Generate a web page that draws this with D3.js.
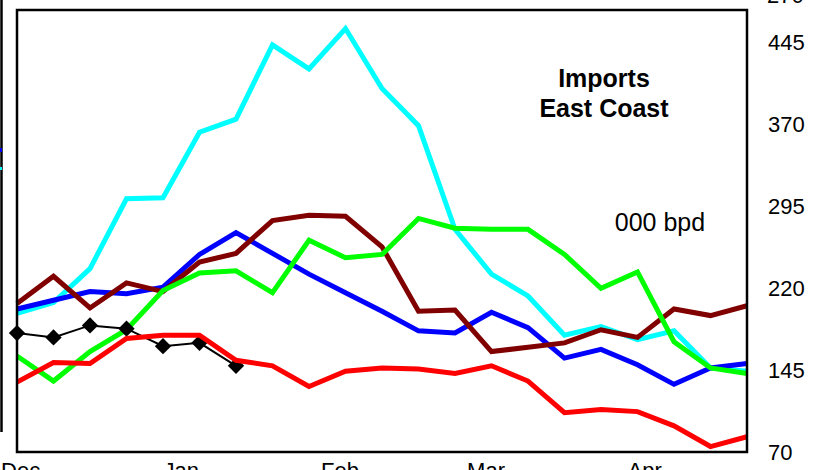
<!DOCTYPE html>
<html>
<head>
<meta charset="utf-8">
<script src="https://cdn.jsdelivr.net/npm/d3@7"></script>
<style>
  html, body { margin: 0; padding: 0; background: #fff; overflow: hidden; }
  svg { display: block; font-family: Arial, "Liberation Sans", sans-serif; }
</style>
</head>
<body>
<svg id="chart" width="818" height="470"></svg>
<script>
// ---- data (weekly, Dec through Apr) ----
const weeks = d3.range(21);
const monthLabels = ["Dec", "Jan", "Feb", "Mar", "Apr"];
const monthPositions = [0.1, 4.5, 8.85, 12.85, 17.2];
const yTicks = [70, 145, 220, 295, 370, 445];
const topCutLabel = "270";

const cyanSeries   = [197, 207, 238, 302, 303, 363, 375, 443, 421, 458, 403, 369, 274, 233, 213, 177, 185, 173, 181, 147, 144];
const blueSeries   = [201, 209, 217, 215, 221, 251, 271, 252, 233, 216, 199, 181, 179, 198, 184, 156, 164, 150, 132, 147, 151];
const maroonSeries = [206, 231, 202, 225, 217, 244, 252, 282, 287, 286, 258, 199, 200, 162, 166, 170, 182, 175, 201, 195, 204];
const greenSeries  = [158, 135, 162, 182, 218, 234, 236, 216, 264, 248, 251, 284, 275, 274, 274, 251, 220, 235, 171, 147, 142];
const redSeries    = [134, 152, 151, 174, 177, 177, 154, 149, 130, 144, 147, 146, 142, 149, 135, 106, 109, 107, 94, 75, 84];
const blackSeries  = [179, 175, 186, 183, 167, 170, 149];

const seriesList = [
  { name: "cyan",   values: cyanSeries,   color: "#00ffff" },
  { name: "blue",   values: blueSeries,   color: "#0000ff" },
  { name: "maroon", values: maroonSeries, color: "#800000" },
  { name: "green",  values: greenSeries,  color: "#00ff00" },
];

// ---- layout ----
const svg = d3.select("#chart");
const plotLeft = 17, plotRight = 747, plotTop = 10, plotBottom = 452;

const x = d3.scaleLinear().domain([0, 20]).range([plotLeft, plotRight]);
const y = d3.scaleLinear().domain([70, 475]).range([plotBottom, plotTop]);

// stray line at far left (edge of neighbouring panel)
svg.append("line").attr("x1", 1.5).attr("x2", 1.5).attr("y1", 0).attr("y2", 432)
  .attr("stroke", "#000").attr("stroke-width", 2.5);
svg.append("rect").attr("x", 0).attr("y", 148).attr("width", 2).attr("height", 4).attr("fill", "#0000ff");
svg.append("rect").attr("x", 0).attr("y", 167).attr("width", 2).attr("height", 3).attr("fill", "#00ffff");

const line = d3.line().x((d, i) => x(i)).y(d => y(d));

const g = svg.append("g");
seriesList.forEach(s => {
  g.append("path").datum(s.values)
    .attr("d", line)
    .attr("fill", "none")
    .attr("stroke", s.color)
    .attr("stroke-width", 5)
    .attr("stroke-linejoin", "miter");
});

// black series with diamonds
g.append("path").datum(blackSeries)
  .attr("d", line).attr("fill", "none")
  .attr("stroke", "#000").attr("stroke-width", 2);
g.selectAll("path.diamond").data(blackSeries).join("path")
  .attr("class", "diamond")
  .attr("transform", (d, i) => `translate(${x(i)},${y(d)})`)
  .attr("d", d3.symbol().type(d3.symbolDiamond2).size(170))
  .attr("fill", "#000");

// red on top
g.append("path").datum(redSeries)
  .attr("d", line).attr("fill", "none")
  .attr("stroke", "#ff0000").attr("stroke-width", 5);

// frame
svg.append("rect").attr("x", plotLeft).attr("y", plotTop)
  .attr("width", plotRight - plotLeft).attr("height", plotBottom - plotTop)
  .attr("fill", "none").attr("stroke", "#000").attr("stroke-width", 2.5);

// right axis labels
const yAxis = d3.axisRight(y).tickValues(yTicks).tickSize(0).tickPadding(21);
const ya = svg.append("g").attr("transform", `translate(${plotRight},0)`).call(yAxis);
ya.select(".domain").remove();
ya.selectAll("text").attr("font-size", 22).attr("fill", "#000")
  .attr("font-family", "Arial, 'Liberation Sans', sans-serif");

svg.append("text").attr("x", 767).attr("y", 3).attr("font-size", 22).text(topCutLabel);

// month labels (cut off at bottom)
svg.selectAll("text.month").data(monthLabels).join("text")
  .attr("class", "month")
  .attr("x", (d, i) => x(monthPositions[i]))
  .attr("y", 478)
  .attr("text-anchor", "middle")
  .attr("font-size", 22)
  .text(d => d);

// annotations
svg.append("text").attr("x", 604).attr("y", 87).attr("text-anchor", "middle")
  .attr("font-size", 25).attr("font-weight", "bold").text("Imports");
svg.append("text").attr("x", 604).attr("y", 117).attr("text-anchor", "middle")
  .attr("font-size", 25).attr("font-weight", "bold").text("East Coast");
svg.append("text").attr("x", 660).attr("y", 231).attr("text-anchor", "middle")
  .attr("font-size", 25).text("000 bpd");
</script>
</body>
</html>
